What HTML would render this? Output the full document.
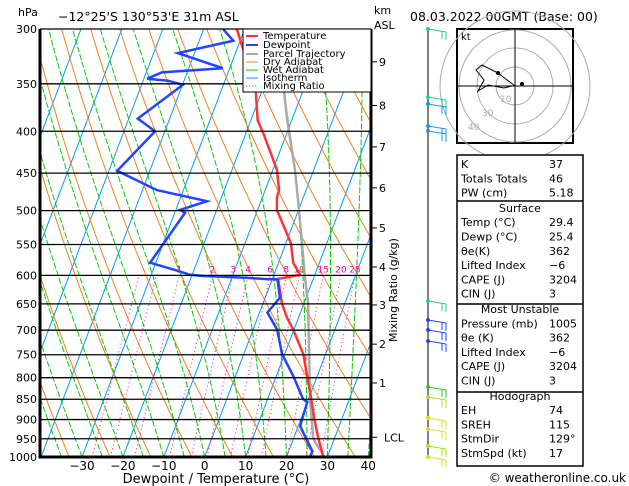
<!DOCTYPE html>
<html><head><meta charset="utf-8"><style>
body{margin:0;background:#fff}
svg{display:block;font-family:"DejaVu Sans","Liberation Sans",sans-serif}
</style></head><body>
<svg id="c" width="629" height="486" viewBox="0 0 629 486" xmlns="http://www.w3.org/2000/svg">
<defs><clipPath id="pc"><rect x="40" y="29" width="331" height="428"/></clipPath></defs>
<g id="bg" clip-path="url(#pc)"></g>
<g id="fg"></g>
<text x="18" y="16" font-size="11">hPa</text>
<text x="58" y="21" font-size="12.5">−12°25'S  130°53'E  31m  ASL</text>
<text x="374" y="14" font-size="11">km</text>
<text x="374" y="29" font-size="11">ASL</text>
<text x="410" y="21" font-size="12.5">08.03.2022  00GMT  (Base: 00)</text>
<text x="216" y="483" font-size="13" text-anchor="middle">Dewpoint / Temperature (°C)</text>
<text x="397" y="290" font-size="11" text-anchor="middle" transform="rotate(-90 397 290)">Mixing Ratio (g/kg)</text>
<text x="626" y="482" font-size="12" text-anchor="end">© weatheronline.co.uk</text>
<g>
<rect x="243" y="29" width="128" height="63" fill="#fff" stroke="#000" stroke-width="1"/>
<line x1="246" y1="36" x2="258" y2="36" stroke="#ff3333" stroke-width="2"/><text x="263" y="39" font-size="10">Temperature</text>
<line x1="246" y1="45" x2="258" y2="45" stroke="#2244ff" stroke-width="2"/><text x="263" y="48" font-size="10">Dewpoint</text>
<line x1="246" y1="54" x2="258" y2="54" stroke="#aaa" stroke-width="2"/><text x="263" y="57" font-size="10">Parcel Trajectory</text>
<line x1="246" y1="62" x2="258" y2="62" stroke="#f08020" stroke-width="1"/><text x="263" y="65" font-size="10">Dry Adiabat</text>
<line x1="246" y1="70" x2="258" y2="70" stroke="#00cc00" stroke-width="1"/><text x="263" y="73" font-size="10">Wet Adiabat</text>
<line x1="246" y1="78" x2="258" y2="78" stroke="#0099ff" stroke-width="1"/><text x="263" y="81" font-size="10">Isotherm</text>
<line x1="246" y1="86" x2="258" y2="86" stroke="#ff0099" stroke-width="1" stroke-dasharray="1,2"/><text x="263" y="89" font-size="10">Mixing Ratio</text>
</g>
<g>
<rect x="457" y="29" width="116" height="114" fill="#fff" stroke="#000" stroke-width="2"/>
<g fill="none" stroke="#aaa"><circle cx="515" cy="86" r="19"/><circle cx="515" cy="86" r="38"/><circle cx="515" cy="86" r="56"/><circle cx="515" cy="86" r="75"/></g>
<line x1="457" y1="86" x2="573" y2="86" stroke="#000"/><line x1="515" y1="29" x2="515" y2="143" stroke="#000"/>
<text x="461" y="40" font-size="10">kt</text>
<text x="500" y="102" font-size="9" fill="#aaa">10</text><text x="482" y="116" font-size="9" fill="#aaa">30</text><text x="468" y="130" font-size="9" fill="#aaa">40</text>
<polyline points="515,86 498,73 482,65 476,70 484,80 478,91 488,85 504,88 512,86" fill="none" stroke="#000"/>
<circle cx="522" cy="84" r="2"/><circle cx="498" cy="73" r="2"/>
</g>
<g id="tbl"></g>
<g id="wind"></g>
</svg>
<script>
const NS="http://www.w3.org/2000/svg";
const tempP=[300,314,350,388,402,446,472,481,499,548,579,599,606,649,675,699,748,797,850,899,946,998];
const tempT=[-31.9,-29.2,-22.3,-18.3,-15.8,-9.0,-6.6,-6.5,-5.3,1.2,3.6,6.4,1.4,4.6,7.1,9.8,14.5,17.6,20.7,23.3,25.9,28.9];
const dewP=[300,310,321,335,339,345,347,351,386,400,447,472,487,499,503,579,592,599,601,604,606,607,639,666,699,748,797,850,857,899,917,946,984,998];
const dewT=[-35.3,-31.7,-44.1,-31.7,-46.2,-49.2,-43.9,-39.9,-47.8,-42.4,-48.0,-36.5,-23.2,-29.0,-27.5,-31.4,-24.1,-20.5,-17.2,-6.3,-2.3,1.3,3.6,1.9,5.9,9.3,14.2,18.7,20.0,20.3,20.5,22.8,25.8,25.7];
const parcelP=[359,387,446,499,603,649,850,945,959,988];
const parcelT=[-14.4,-11.2,-4.6,0.1,7.8,11.0,20.4,24.6,25.6,28.3];
const pressureTicks=[300,350,400,450,500,550,600,650,700,750,800,850,900,950,1000];
const tempTicks=[-30,-20,-10,0,10,20,30,40];
const mixRatios=[0.4,0.6,1,2,3,4,6,8,10,15,20,25];
const kmLabels=["9","8","7","6","5","4","3","2","1","LCL"];
const kmPressures=[329,372,418,469,525,586,652,728,812,946];
const tblRows=[["K","37"],["Totals Totals","46"],["PW (cm)","5.18"],["#Surface",""],["Temp (°C)","29.4"],["Dewp (°C)","25.4"],["θe(K)","362"],["Lifted Index","−6"],["CAPE (J)","3204"],["CIN (J)","3"],["#Most Unstable",""],["Pressure (mb)","1005"],["θe (K)","362"],["Lifted Index","−6"],["CAPE (J)","3204"],["CIN (J)","3"],["#Hodograph",""],["EH","74"],["SREH","115"],["StmDir","129°"],["StmSpd (kt)","17"]];

const yP=p=>29+Math.log(p/300)/Math.log(1000/300)*428;
const xT=(t,p)=>204.7+t*4.09+0.38*(457-yP(p));
function mk(tag,attrs,parent){const e=document.createElementNS(NS,tag);for(const k in attrs)e.setAttribute(k,attrs[k]);parent.appendChild(e);return e;}
const bg=document.getElementById('bg'),fg=document.getElementById('fg');
function line(pts,st,parent,name){const e=mk('polyline',{points:pts.map(q=>q[0].toFixed(1)+','+q[1].toFixed(1)).join(' '),fill:'none'},parent);for(const k in st)e.setAttribute(k,st[k]);

return e;}
const levels=[];for(let p=1000;p>=300;p-=10)levels.push(p);
for(let t=-120;t<=40;t+=10){line([[xT(t,1000),yP(1000)],[xT(t,300),yP(300)]],{stroke:'#0099ff','stroke-width':1},bg,'isotherm');}
for(let th=240;th<=480;th+=10){line(levels.map(p=>[xT(th*Math.pow(p/1000,0.286)-273.15,p),yP(p)]),{stroke:'#f08020','stroke-width':1},bg,'dry-adiabat');}
function es(t){return 6.112*Math.exp(17.67*t/(t+243.5));}
for(let t0=-40;t0<=40;t0+=5){let T=t0+273.15,pts=[];for(let p=1000;p>=300;p-=5){pts.push([xT(T-273.15,p),yP(p)]);const e=es(T-273.15),rs=0.622*e/(p-e);const d=(287*T+2.5e6*rs)/(p*(1004+2.5e6*2.5e6*rs*0.622/(287*T*T)));T-=d*5;}
line(pts,{stroke:'#00cc00','stroke-width':1,'stroke-dasharray':'6,2'},bg,'wet-adiabat');}
function tdFromW(w,p){const e=w*p/(622+w),l=Math.log(e/6.112);return 243.5*l/(17.67-l);}
mixRatios.forEach(w=>{const pts=[];for(let p=1000;p>=600;p-=10)pts.push([xT(tdFromW(w,p),p),yP(p)]);
line(pts,{stroke:'#ff0099','stroke-width':1,'stroke-dasharray':'1,3'},bg,'mixing-ratio-line');
if(w>=1){const t=mk('text',{x:xT(tdFromW(w,600),600),y:yP(600)-3,'font-size':9,fill:'#ff0099','text-anchor':'middle'},bg);t.textContent=w;

}});
pressureTicks.forEach(p=>{const y=yP(p);const l=mk('line',{x1:40,x2:371,y1:y,y2:y,stroke:'#000','stroke-width':1.3},fg);


const t=mk('text',{x:37,y:y+4,'font-size':11,'text-anchor':'end'},fg);t.textContent=p;

});
line(parcelP.map((p,i)=>[xT(parcelT[i],p),yP(p)]),{stroke:'#aaa','stroke-width':2.5},bg,'parcel-trajectory');
line(tempP.map((p,i)=>[xT(tempT[i],p),yP(p)]),{stroke:'#ff3333','stroke-width':2.5},bg,'temperature-line');
line(dewP.map((p,i)=>[xT(dewT[i],p),yP(p)]),{stroke:'#2244ff','stroke-width':2.5},bg,'dewpoint-line');
const fr=mk('path',{d:'M40,29 V457 H371 V29',fill:'none',stroke:'#000','stroke-width':3},fg);


tempTicks.forEach(t=>{const x=204.7+t*4.09;const s=mk('text',{x:x,y:470,'font-size':12,'text-anchor':'middle'},fg);s.textContent=t<0?'−'+(-t):t;

});
kmLabels.forEach((k,i)=>{const y=yP(kmPressures[i]);mk('line',{x1:371,x2:377,y1:y,y2:y,stroke:'#000'},fg);
const s=mk('text',{x:k==='LCL'?384:379,y:y+4,'font-size':11},fg);s.textContent=k;

});
const tb=document.getElementById('tbl');
mk('rect',{x:457,y:155,width:126,height:311,fill:'#fff',stroke:'#000','stroke-width':1.5},tb);
[201,304,392].forEach(y=>mk('line',{x1:457,x2:583,y1:y,y2:y,stroke:'#000','stroke-width':1.5},tb));
tblRows.forEach((r,i)=>{const y=168+i*14.3+(i>=3?1:0)+(i>=10?1:0)+(i>=16?1:0);
if(r[0][0]==='#'){const t=mk('text',{x:520,y:y,'font-size':11,'text-anchor':'middle'},tb);t.textContent=r[0].slice(1);

}
else{const a=mk('text',{x:461,y:y,'font-size':11},tb);a.textContent=r[0];


const b=mk('text',{x:549,y:y,'font-size':11},tb);b.textContent=r[1];

}});
const wd=document.getElementById('wind');
mk('line',{x1:428,x2:428,y1:29,y2:457,stroke:'#000'},wd);
const barbY=[29,97,104,126,131,301,320,330,341,387,397,418,429,446,457];
const barbC=['#22ccaa','#22ccaa','#1199ee','#1199ee','#1199ee','#22ccaa','#2244ff','#2244ff','#2244ff','#22cc22','#aadd22','#dddd22','#dddd22','#aadd22','#dddd22'];
barbY.forEach((y,i)=>{const c=barbC[i];mk('circle',{cx:428,cy:y,r:2,fill:c},wd);
const g=mk('polyline',{points:`428,${y} 446,${y+3}`,fill:'none',stroke:c},wd);


mk('line',{x1:442,y1:y+2,x2:442,y2:y+10,stroke:c},wd);mk('line',{x1:446,y1:y+3,x2:446,y2:y+11,stroke:c},wd);});
</script>
</body></html>
